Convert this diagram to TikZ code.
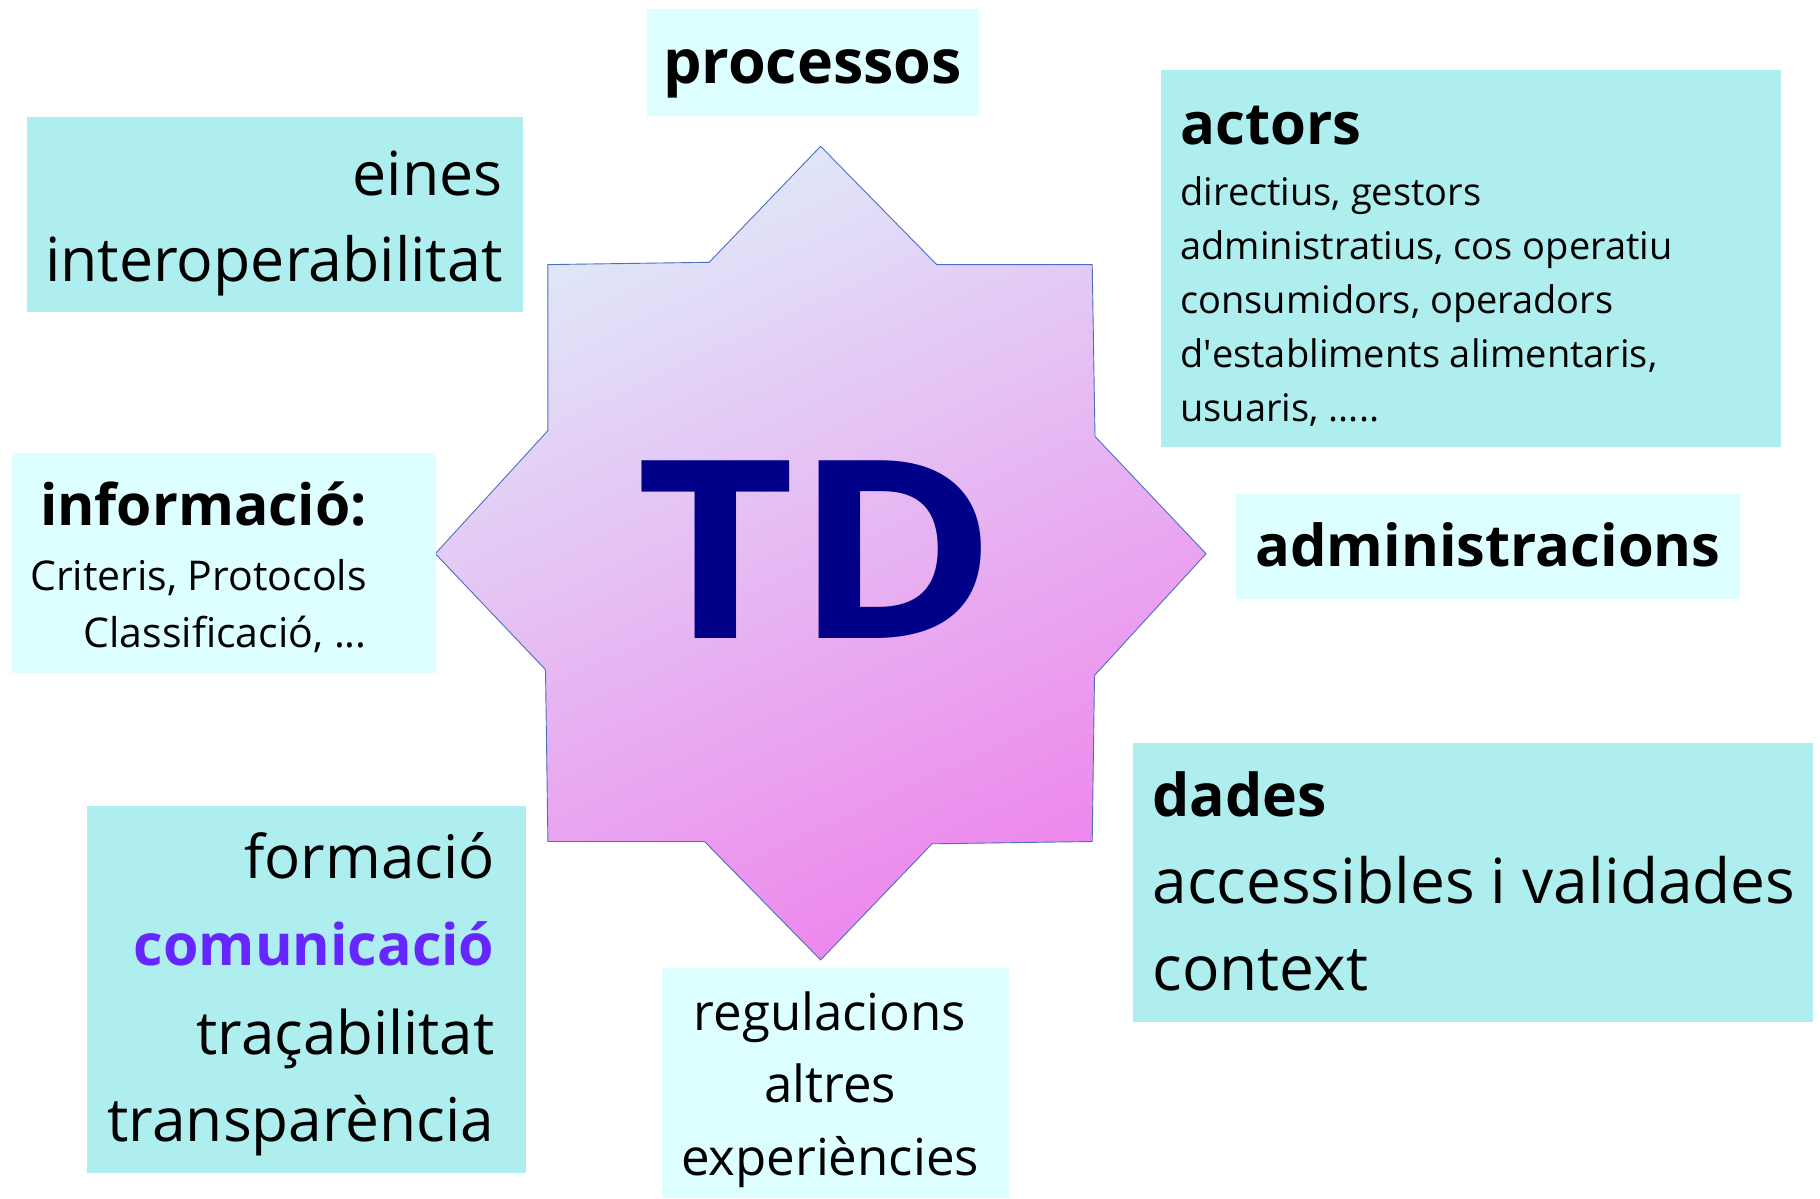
\documentclass[tikz,border=0pt]{standalone}
\usepackage{graphicx}
\usepackage{fontspec}
\setmainfont{Open Sans}
\definecolor{paleturq}{HTML}{AFEEEE}
\definecolor{lcyan}{HTML}{DEFFFF}
\definecolor{commpurple}{HTML}{6626FF}
\definecolor{tdnavy}{HTML}{000088}
\definecolor{starline}{HTML}{4A6FC0}
\definecolor{startop}{HTML}{DFEAF9}
\definecolor{starmid}{HTML}{E6C0F2}
\definecolor{starbot}{HTML}{EE84EC}
\newcommand\myfs[1]{\fontsize{#1}{#1}\selectfont}
\tikzset{
  darkbox/.style={fill=paleturq, draw=none, inner sep=0pt, anchor=north west},
  lightbox/.style={fill=lcyan, draw=none, inner sep=0pt, anchor=north west},
  txt/.style={inner sep=0pt, outer sep=0pt, text=black},
}
\begin{document}
\begin{tikzpicture}[x=1pt,y=-1pt]
\useasboundingbox[fill=white] (0,0) rectangle (1820,1199);

% star
\coordinate (s1) at (820.6,146.3);
\coordinate (s2) at (936.7,264.6);
\coordinate (s3) at (1092.2,264.6);
\coordinate (s4) at (1095.0,436.4);
\coordinate (s5) at (1206.0,553.7);
\coordinate (s6) at (1094.5,675.5);
\coordinate (s7) at (1092.2,841.5);
\coordinate (s8) at (932.0,843.8);
\coordinate (s9) at (820.6,959.9);
\coordinate (s10) at (704.5,841.5);
\coordinate (s11) at (547.9,841.5);
\coordinate (s12) at (545.5,669.7);
\coordinate (s13) at (435.3,553.7);
\coordinate (s14) at (547.9,430.6);
\coordinate (s15) at (547.9,264.6);
\coordinate (s16) at (709.2,262.3);
\shade[top color=startop, middle color=starmid, bottom color=starbot, shading angle=25]
  (s1) -- (s2) -- (s3) -- (s4) -- (s5) -- (s6) -- (s7) -- (s8) -- (s9) -- (s10) -- (s11) -- (s12) -- (s13) -- (s14) -- (s15) -- (s16) -- cycle;
\draw[starline, line width=0.9pt, line join=miter]
  (s1) -- (s2) -- (s3) -- (s4) -- (s5) -- (s6) -- (s7) -- (s8) -- (s9) -- (s10) -- (s11) -- (s12) -- (s13) -- (s14) -- (s15) -- (s16) -- cycle;
\node[txt, anchor=base, text=tdnavy, font=\myfs{249}\bfseries] (td) at (817,638.4) {\scalebox{1.1}[1]{TD}};

% processos
\node[lightbox, minimum width=332pt, minimum height=106pt] (bproc) at (646.5,9.3) {};
\node[txt, anchor=base, font=\myfs{61}\bfseries] (tproc) at (812.5,83.6) {processos};

% eines
\node[darkbox, minimum width=495.6pt, minimum height=195pt] (beines) at (26.7,117.2) {};
\node[txt, anchor=base east, font=\myfs{60.8}] (teines1) at (502.6,195) {eines};
\node[txt, anchor=base east, font=\myfs{60.8}] (teines2) at (502.6,281) {interoperabilitat};

% actors
\node[darkbox, minimum width=619.8pt, minimum height=377.3pt] (bact) at (1160.7,69.6) {};
\node[txt, anchor=base west, font=\myfs{58}\bfseries] (tact0) at (1180.4,144) {actors};
\node[txt, anchor=base west, font=\myfs{38}] (tact1) at (1180.4,205.4) {directius, gestors};
\node[txt, anchor=base west, font=\myfs{38}] (tact2) at (1180.4,259.5) {administratius, cos operatiu};
\node[txt, anchor=base west, font=\myfs{38}] (tact3) at (1180.4,313.6) {consumidors, operadors};
\node[txt, anchor=base west, font=\myfs{38}] (tact4) at (1180.4,367.7) {d\textquotesingle establiments alimentaris,};
\node[txt, anchor=base west, font=\myfs{38}] (tact5) at (1180.4,421.8) {usuaris, .....};

% administracions
\node[lightbox, minimum width=503.7pt, minimum height=105.7pt] (badm) at (1236.2,493.3) {};
\node[txt, anchor=base, font=\myfs{57.8}\bfseries] (tadm) at (1488,566) {administracions};

% informacio
\node[lightbox, minimum width=423.7pt, minimum height=220.5pt] (binf) at (11.6,452.7) {};
\node[txt, anchor=base east, font=\myfs{57}\bfseries] (tinf0) at (366.8,525.8) {informació:};
\node[txt, anchor=base east, font=\myfs{41}] (tinf1) at (366.8,590.8) {Criteris, Protocols};
\node[txt, anchor=base east, font=\myfs{41}] (tinf2) at (366.8,647.7) {Classificació, ...};

% formacio
\node[darkbox, minimum width=438.8pt, minimum height=366.8pt] (bform) at (87,805.5) {};
\node[txt, anchor=base east, font=\myfs{60}] (tform1) at (494.5,878.6) {formació};
\node[txt, anchor=base east, font=\myfs{57.3}\bfseries, text=commpurple] (tform2) at (494.5,965.7) {comunicació};
\node[txt, anchor=base east, font=\myfs{60}] (tform3) at (494.5,1054) {traçabilitat};
\node[txt, anchor=base east, font=\myfs{60.4}] (tform4) at (494.5,1141) {transparència};

% regulacions
\node[lightbox, minimum width=347.1pt, minimum height=229.8pt] (breg) at (661.6,968) {};
\node[txt, anchor=base, font=\myfs{51}] (treg1) at (830,1030.7) {regulacions};
\node[txt, anchor=base, font=\myfs{51}] (treg2) at (830,1102.7) {altres};
\node[txt, anchor=base, font=\myfs{51}] (treg3) at (830,1175.8) {experiències};

% dades
\node[darkbox, minimum width=680.1pt, minimum height=278.6pt] (bdad) at (1132.9,742.8) {};
\node[txt, anchor=base west, font=\myfs{59}\bfseries] (tdad0) at (1152.6,816) {dades};
\node[txt, anchor=base west, font=\myfs{62.2}] (tdad1) at (1152.6,903) {accessibles i validades};
\node[txt, anchor=base west, font=\myfs{62.2}] (tdad2) at (1152.6,990) {context};
\end{tikzpicture}
\end{document}
